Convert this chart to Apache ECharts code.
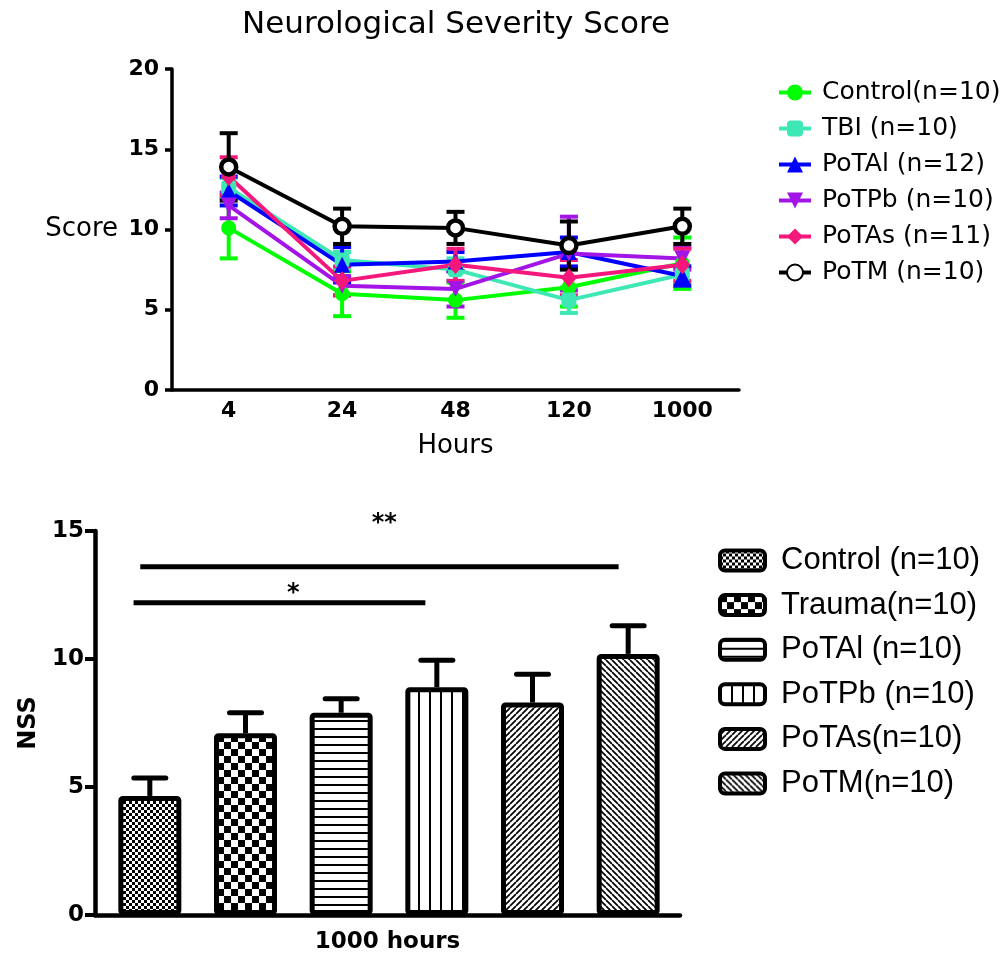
<!DOCTYPE html>
<html><head><meta charset="utf-8">
<script src="https://cdn.jsdelivr.net/npm/echarts@6/dist/echarts.min.js"></script>
<style>html,body{margin:0;padding:0;background:#fff}#c{width:1006px;height:960px}</style>
</head><body><div id="c"></div>
<script>
// ---------- Top chart data ----------
const hours = ['4', '24', '48', '120', '1000'];
const lineNames = ['Control(n=10)', 'TBI (n=10)', 'PoTAl (n=12)', 'PoTPb (n=10)', 'PoTAs (n=11)', 'PoTM (n=10)'];
const controlMean = [10.1, 6.0, 5.6, 6.4, 7.9];
const controlSem  = [1.9, 1.4, 1.1, 1.2, 1.6];
const tbiMean     = [12.6, 8.1, 7.5, 5.6, 7.2];
const tbiSem      = [0.6, 0.5, 0.7, 0.8, 0.5];
const potalMean   = [12.4, 7.8, 8.0, 8.6, 7.1];
const potalSem    = [0.9, 1.1, 0.6, 0.9, 0.6];
const potpbMean   = [11.5, 6.5, 6.3, 8.5, 8.2];
const potpbSem    = [0.8, 0.6, 1.1, 2.3, 0.7];
const potasMean   = [13.3, 6.8, 7.8, 7.0, 7.8];
const potasSem    = [1.2, 0.9, 1.0, 1.1, 1.0];
const potmMean    = [13.9, 10.2, 10.1, 9.0, 10.2];
const potmSem     = [2.1, 1.1, 1.0, 1.5, 1.1];

// ---------- Bottom chart data ----------
const barCategory = ['1000 hours'];
const barNames = ['Control (n=10)', 'Trauma(n=10)', 'PoTAl (n=10)', 'PoTPb (n=10)', 'PoTAs(n=10)', 'PoTM(n=10)'];
const barMeans = [4.65, 7.1, 7.9, 8.9, 8.3, 10.2];
const barSems  = [0.7, 0.8, 0.55, 1.05, 1.1, 1.1];
// significance annotations
const sigLabels = ['**', '*'];
const sigFrom   = [-0.1, -0.17];
const sigTo     = [4.9, 2.88];
const sigLevel  = [13.6, 12.2];
const sigTextX  = [2.45, 1.5];
const sigTextY  = [15.3, 12.55];

// ---------- styles ----------
const lineColors = ['#00FF00', '#3DE8B4', '#0000FF', '#A314E6', '#F5187C', '#000000'];
const lineSymbols = ['circle', 'roundRect', 'triangle', 'triangle', 'diamond', 'circle'];
const lineSymbolRotate = [0, 0, 0, 180, 0, 0];
const lineSymbolSize = [15, 15, 16, 16, [16, 19], 15];
const means = [controlMean, tbiMean, potalMean, potpbMean, potasMean, potmMean];
const sems = [controlSem, tbiSem, potalSem, potpbSem, potasSem, potmSem];
const barKeys = barNames.map((n, i) => 'bar' + i);

function makeCanvas(w, h, draw) {
  const c = document.createElement('canvas');
  c.width = w; c.height = h;
  const g = c.getContext('2d');
  g.fillStyle = '#fff'; g.fillRect(0, 0, w, h);
  g.fillStyle = '#000'; g.strokeStyle = '#000';
  draw(g, w, h);
  return c;
}
function diag(p, forward) {
  return makeCanvas(p, p, (g) => {
    g.lineWidth = 1.7;
    g.beginPath();
    for (const k of [-p, 0, p]) {
      if (forward) { g.moveTo(k, p); g.lineTo(k + p, 0); }
      else { g.moveTo(k, 0); g.lineTo(k + p, p); }
    }
    g.stroke();
  });
}
const patternCanvases = [
  makeCanvas(6, 6, (g) => { g.fillRect(0, 0, 3, 3); g.fillRect(3, 3, 3, 3); }),
  makeCanvas(14, 14, (g) => { g.fillRect(0, 0, 7, 7); g.fillRect(7, 7, 7, 7); }),
  makeCanvas(8, 8, (g) => { g.fillRect(0, 0, 8, 2); }),
  makeCanvas(11, 11, (g) => { g.fillRect(0, 0, 2, 11); }),
  diag(6, true),
  diag(6, false)
];

const chart = echarts.init(document.getElementById('c'), null, { renderer: 'canvas' });

const series = [];
lineNames.forEach((name, i) => {
  series.push({
    type: 'custom',
    name: name + ' err',
    xAxisIndex: 0, yAxisIndex: 0,
    data: hours.map((h, j) => [j, means[i][j], sems[i][j]]),
    encode: { x: 0, y: 1 },
    z: 2,
    silent: true,
    renderItem: (params, api) => {
      const x = api.value(0), m = api.value(1), s = api.value(2);
      const hi = api.coord([x, m + s]);
      const lo = api.coord([x, m - s]);
      const hw = 9;
      const st = { stroke: lineColors[i], lineWidth: 4 };
      return {
        type: 'group', children: [
          { type: 'line', shape: { x1: hi[0], y1: hi[1], x2: lo[0], y2: lo[1] }, style: st },
          { type: 'line', shape: { x1: hi[0] - hw, y1: hi[1], x2: hi[0] + hw, y2: hi[1] }, style: st },
          { type: 'line', shape: { x1: lo[0] - hw, y1: lo[1], x2: lo[0] + hw, y2: lo[1] }, style: st }
        ]
      };
    }
  });
  series.push({
    type: 'line',
    name: name,
    xAxisIndex: 0, yAxisIndex: 0,
    data: means[i],
    symbol: lineSymbols[i],
    symbolRotate: lineSymbolRotate[i],
    symbolSize: lineSymbolSize[i],
    showAllSymbol: true,
    z: 2,
    lineStyle: { color: lineColors[i], width: 4 },
    itemStyle: i === 5 ? { color: '#fff', borderColor: '#000', borderWidth: 4.5 } : { color: lineColors[i] }
  });
});

barNames.forEach((name, i) => {
  series.push({
    type: 'bar',
    name: barKeys[i],
    xAxisIndex: 2, yAxisIndex: 2,
    data: barNames.map((n, j) => (j === i ? barMeans[i] : '-')),
    barWidth: 63,
    barGap: '-100%',
    z: 3,
    itemStyle: {
      color: { image: patternCanvases[i], repeat: 'repeat' },
      borderColor: '#000',
      borderWidth: 5,
      borderRadius: 2
    }
  });
});

series.push({
  type: 'custom',
  name: 'bar err',
  xAxisIndex: 2, yAxisIndex: 2,
  data: barMeans.map((m, i) => [i, m, barSems[i]]),
  encode: { x: 0, y: 1 },
  z: 2,
  silent: true,
  renderItem: (params, api) => {
    const x = api.value(0), m = api.value(1), s = api.value(2);
    const top = api.coord([x, m + s]);
    const base = api.coord([x, m]);
    const hw = 16;
    return {
      type: 'group', children: [
        { type: 'line', shape: { x1: top[0], y1: base[1], x2: top[0], y2: top[1] }, style: { stroke: '#000', lineWidth: 5 } },
        { type: 'line', shape: { x1: top[0] - hw, y1: top[1], x2: top[0] + hw, y2: top[1] }, style: { stroke: '#000', lineWidth: 5, lineCap: 'round' } }
      ]
    };
  }
});

series.push({
  type: 'custom',
  name: 'sig',
  xAxisIndex: 3, yAxisIndex: 2,
  data: sigLabels.map((l, i) => [sigFrom[i], sigLevel[i], sigTo[i], sigTextX[i], sigTextY[i]]),
  encode: { x: 0, y: 1 },
  clip: false,
  silent: true,
  z: 4,
  renderItem: (params, api) => {
    const a = api.coord([api.value(0), api.value(1)]);
    const b = api.coord([api.value(2), api.value(1)]);
    const t = api.coord([api.value(3), api.value(4)]);
    return {
      type: 'group', children: [
        { type: 'line', shape: { x1: a[0], y1: a[1], x2: b[0], y2: b[1] }, style: { stroke: '#000', lineWidth: 5 } },
        { type: 'text', x: t[0], y: t[1], style: { text: sigLabels[params.dataIndex], fill: '#000', font: 'bold 24px "DejaVu Sans"', textAlign: 'center', textVerticalAlign: 'middle' } }
      ]
    };
  }
});

const option = {
  animation: false,
  backgroundColor: '#fff',
  textStyle: { fontFamily: 'DejaVu Sans', color: '#000' },
  title: {
    text: 'Neurological Severity Score',
    left: 237, top: 4,
    textStyle: { fontFamily: 'DejaVu Sans', fontSize: 31, fontWeight: 'normal', color: '#000' }
  },
  legend: [
    {
      data: lineNames,
      orient: 'vertical',
      left: 772, top: 75,
      itemWidth: 32, itemHeight: 20, itemGap: 11,
      lineStyle: { width: 4 },
      textStyle: { fontFamily: 'DejaVu Sans', fontSize: 25, color: '#000', padding: [0, 0, 0, 6] }
    },
    {
      data: barKeys,
      formatter: (name) => barNames[barKeys.indexOf(name)],
      orient: 'vertical',
      left: 713, top: 540,
      itemWidth: 45, itemHeight: 20, itemGap: 13.6,
      icon: 'roundRect',
      itemStyle: { borderWidth: 4, borderColor: '#000' },
      textStyle: { fontFamily: 'Liberation Sans', fontSize: 31, color: '#000', padding: [0, 0, 0, 11] }
    }
  ],
  grid: [
    { left: 172, top: 69, width: 567, height: 321, containLabel: false },
    { left: 95, top: 531, width: 585, height: 384, containLabel: false },
    { left: 102, top: 531, width: 574, height: 384, containLabel: false }
  ],
  xAxis: [
    {
      gridIndex: 0, type: 'category', data: hours, boundaryGap: true,
      axisLine: { lineStyle: { color: '#000', width: 3.5 } },
      axisTick: { alignWithLabel: true, length: 7, lineStyle: { color: '#000', width: 3.5 } },
      axisLabel: { fontFamily: 'DejaVu Sans', fontWeight: 'bold', fontSize: 22, color: '#000', margin: 10 },
      splitLine: { show: false },
      name: 'Hours', nameLocation: 'middle', nameGap: 43,
      nameTextStyle: { fontFamily: 'DejaVu Sans', fontSize: 26, color: '#000' }
    },
    {
      gridIndex: 1, type: 'category', data: barCategory, boundaryGap: true,
      axisLine: { lineStyle: { color: '#000', width: 4.5 } },
      axisTick: { alignWithLabel: true, length: 12, lineStyle: { color: '#000', width: 4 } },
      axisLabel: { fontFamily: 'DejaVu Sans', fontWeight: 'bold', fontSize: 23, color: '#000', margin: 16 },
      splitLine: { show: false }
    },
    {
      gridIndex: 2, type: 'category', data: barNames, boundaryGap: true, show: false
    },
    {
      gridIndex: 2, type: 'value', min: -0.5, max: 5.5, show: false
    }
  ],
  yAxis: [
    {
      gridIndex: 0, type: 'value', min: 0, max: 20, interval: 5,
      axisLine: { show: true, lineStyle: { color: '#000', width: 3.5 } },
      axisTick: { show: true, length: 7, lineStyle: { color: '#000', width: 3.5 } },
      axisLabel: { fontFamily: 'DejaVu Sans', fontWeight: 'bold', fontSize: 22, color: '#000', margin: 13 },
      splitLine: { show: false },
      name: 'Score', nameLocation: 'middle', nameRotate: 0, nameGap: 54,
      nameTextStyle: { fontFamily: 'DejaVu Sans', fontSize: 26, color: '#000' }
    },
    {
      gridIndex: 1, type: 'value', min: 0, max: 15, interval: 5,
      axisLine: { show: true, lineStyle: { color: '#000', width: 4.5 } },
      axisTick: { show: true, length: 10, lineStyle: { color: '#000', width: 4 } },
      axisLabel: { fontFamily: 'DejaVu Sans', fontWeight: 'bold', fontSize: 23, color: '#000', margin: 11 },
      splitLine: { show: false },
      name: 'NSS', nameLocation: 'middle', nameGap: 38,
      nameTextStyle: { fontFamily: 'DejaVu Sans', fontWeight: 'bold', fontSize: 24, color: '#000' }
    },
    {
      gridIndex: 2, type: 'value', min: 0, max: 15, interval: 5, show: false
    }
  ],
  series: series
};
chart.setOption(option);
</script>
</body></html>
